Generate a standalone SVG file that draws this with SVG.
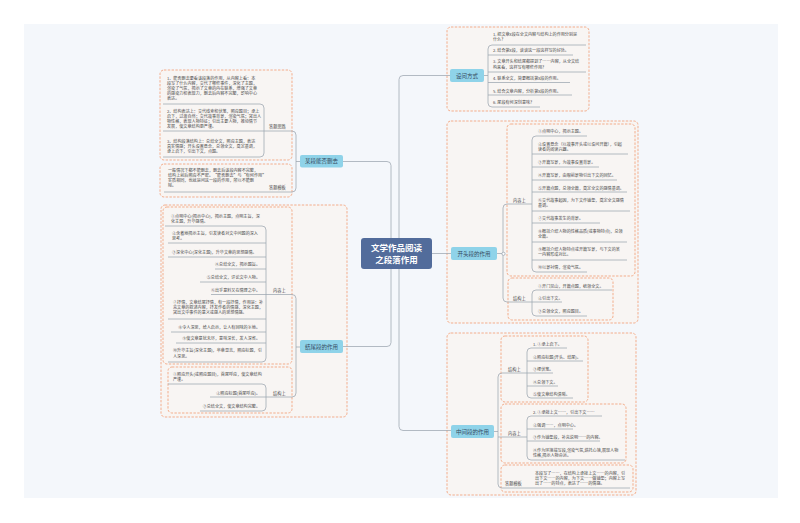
<svg xmlns="http://www.w3.org/2000/svg" width="800" height="523" viewBox="0 0 800 523">
<style>
.cv{fill:#f4f7fb}
.bx{fill:#f8f5f3;stroke:#f2a07a;stroke-width:0.85;stroke-dasharray:2.4 1.4}
.ln{fill:none;stroke:#9ca5b0;stroke-width:0.75}
.tp{fill:#8fd3e9}
.t{font-family:"Noto Sans CJK SC","Noto Sans",sans-serif}
.tt{font-size:5.5px;fill:#34495e;text-anchor:middle}
.it{font-size:4.1px;fill:#4a4a4a}
.e{text-anchor:end}
.lb{font-size:4.2px;fill:#4a4a4a}
.ct{font-size:8.5px;font-weight:bold;fill:#fff;text-anchor:middle}
</style>
<rect x="0" y="0" width="800" height="523" fill="#ffffff"/>
<rect class="cv" x="24" y="24" width="754" height="474"/>

<g id="frames">
<rect class="bx" x="447" y="27" width="142" height="84" rx="4"/>
<rect class="bx" x="447" y="121" width="191" height="202" rx="4"/>
<rect class="bx" x="507" y="124" width="128" height="152" rx="4"/>
<rect class="bx" x="508" y="278" width="105" height="42" rx="4"/>
<rect class="bx" x="447" y="333" width="189" height="162" rx="4"/>
<rect class="bx" x="501" y="336" width="87" height="66" rx="4"/>
<rect class="bx" x="501" y="404" width="125" height="59" rx="4"/>
<rect class="bx" x="501" y="465" width="132" height="27" rx="4"/>
<rect class="bx" x="160" y="70" width="132" height="90" rx="4"/>
<rect class="bx" x="160" y="164" width="132" height="33" rx="4"/>
<rect class="bx" x="161" y="205" width="186" height="212" rx="4"/>
<rect class="bx" x="163" y="207" width="129" height="157" rx="4"/>
<rect class="bx" x="168" y="367" width="124" height="46" rx="4"/>
</g>

<g id="connectors" class="ln">
<path d="M343,161.5 H387 Q391,161.5 391,165.5 V342.5 Q391,346.5 387,346.5 H343"/>
<path d="M450,75.5 H403 Q399,75.5 399,79.5 V426.5 Q399,430.5 403,430.5 H451"/>
<path d="M432,253.5 H451"/>
<path d="M484,75.5 H488"/>
<path d="M586,45 H492 Q488,45 488,49 V103 Q488,107 492,107 H540"/>
<path d="M488,55 H573 M488,72 H586 M488,82.5 H570 M488,95 H572"/>
<path d="M497,253.5 H503"/>
<path d="M532,204 H507 Q503,204 503,208 V298 Q503,302 507,302 H532"/>
<path d="M587,136 H536 Q532,136 532,140 V268 Q532,272 536,272 H587"/>
<path d="M532,154 H628 M532,167 H599 M532,180 H617 M532,192 H627 M532,211 H630 M532,223 H600 M532,242 H627 M532,260 H627"/>
<path d="M612,290 H536 Q532,290 532,294 V312 Q532,316 536,316 H587"/>
<path d="M532,302 H562"/>
<path d="M494,431.5 H498"/>
<path d="M527,373 H502 Q498,373 498,377 V484 Q498,488 502,488 H630"/>
<path d="M498,437 H527"/>
<path d="M567,348 H531 Q527,348 527,352 V394 Q527,398 531,398 H573"/>
<path d="M527,361 H583 M527,373 H553 M527,386 H558"/>
<path d="M602,416 H531 Q527,416 527,420 V456 Q527,460 531,460 H625"/>
<path d="M527,429 H573 M527,441 H600"/>
<path d="M296,161.5 H300"/>
<path d="M264,131 H292 Q296,131 296,135 V188 Q296,192 292,192 H164"/>
<path d="M163,104 H260 Q264,104 264,108 V153 Q264,157 260,157 H163"/>
<path d="M163,131 H264"/>
<path d="M296,347 H300"/>
<path d="M266,294.5 H292 Q296,294.5 296,298.5 V393 Q296,397 292,397 H266"/>
<path d="M165,226 H262 Q266,226 266,230 V358 Q266,362 262,362 H168"/>
<path d="M168,243 H266 M168,257 H266 M215,269 H266 M200,282 H266 M211,294.5 H266 M168,319 H266 M171,332 H266 M176,343 H266"/>
<path d="M168,384 H262 Q266,384 266,388 V407 Q266,411 262,411 H200"/>
<path d="M210,397 H266"/>
<circle cx="503.5" cy="253.8" r="1.6" fill="#ffffff"/>
</g>

<g id="node-center">
<rect x="361" y="238" width="71" height="31" rx="3" fill="#526c9b"/>
<text class="t ct" x="396.5" y="251.3">文学作品阅读</text>
<text class="t ct" x="396.5" y="262.5">之段落作用</text>
</g>

<g id="node-tiwen">
<rect class="tp" x="450" y="69" width="34" height="13" rx="2"/>
<text class="t tt" x="467" y="77.5">设问方式</text>
<g class="t it">
<text x="493" y="36">1. 把文章x段在全文内容与结构上的作用分别是</text>
<text x="493" y="41.2">什么？</text>
<text x="493" y="52.2">2. 结合第x段，谈谈这一段这样写的好处。</text>
<text x="493" y="63.2">3. 文章开头和结尾都提到了……内容，从全文结</text>
<text x="493" y="68.6">构来看，这样写有哪些作用？</text>
<text x="493" y="79.8">4. 联系全文，简要概括第x段的作用。</text>
<text x="493" y="92.5">5. 结合文章内容，分析第x段的作用。</text>
<text x="493" y="104.2">6. 尾段有何深刻意味？</text>
</g>
</g>

<g id="node-kaitou">
<rect class="tp" x="451" y="247" width="46" height="13" rx="2"/>
<text class="t tt" x="474" y="255.5">开头段的作用</text>
<text class="t lb" x="513" y="201.5">内容上</text>
<text class="t lb" x="513" y="299.5">结构上</text>
<g class="t it">
<text x="538" y="132.5">①点明中心，揭示主题。</text>
<text x="538" y="145.5">②设置悬念（以故事开头或以设问开篇），引起</text>
<text x="538" y="150.8">读者的阅读兴趣。</text>
<text x="538" y="164.3">③开篇写景，为故事设置背景。</text>
<text x="538" y="177.3">④开篇写景，由眼前景物引出下文的回忆。</text>
<text x="538" y="189.5">⑤开篇点题，总领全篇，奠定全文的感情基调。</text>
<text x="538" y="201.5">⑥交代故事起因，为下文作铺垫，奠定全文感情</text>
<text x="538" y="207">基调。</text>
<text x="538" y="220">⑦交代故事发生的背景。</text>
<text x="538" y="232.5">⑧概括介绍人物的性格品质(或事物特点)，总领</text>
<text x="538" y="237.7">全篇。</text>
<text x="538" y="250.5">⑨概括介绍人物特点或开篇写景，与下文的某</text>
<text x="538" y="255.8">一内容形成对比。</text>
<text x="538" y="269.3">⑩以景衬情，渲染气氛。</text>
<text x="538" y="287.5">①开门见山，开篇点题，统领全文。</text>
<text x="538" y="299.5">②引出下文。</text>
<text x="538" y="312.5">③总领全文，照应题目。</text>
</g>
</g>

<g id="node-zhongjian">
<rect class="tp" x="451" y="425" width="43" height="13" rx="2"/>
<text class="t tt" x="472.5" y="433.5">中间段的作用</text>
<text class="t lb" x="508" y="370.5">结构上</text>
<text class="t lb" x="508" y="434.5">内容上</text>
<text class="t lb" x="505" y="485">答题模板</text>
<g class="t it">
<text x="533" y="345.5">1. ①承上启下。</text>
<text x="533" y="358.5">②照应标题(开头、结尾)。</text>
<text x="533" y="370.5">③埋伏笔。</text>
<text x="533" y="383.5">④总领下文。</text>
<text x="533" y="395.5">⑤使文章结构清晰。</text>
<text x="533" y="413.5">2. ①承接上文……，引出下文……</text>
<text x="533" y="426.5">②强调……，点明中心。</text>
<text x="533" y="438.5">③作为铺垫段，补充说明……的内容。</text>
<text x="533" y="451.5">④作为环境描写段,渲染气氛,烘托心境,展现人物</text>
<text x="533" y="456.7">性格,揭示人物命运。</text>
<text x="535" y="474.5">本段写了……，在结构上承接上文……的内容，引</text>
<text x="535" y="479.7">出下文……的内容，为下文……做铺垫；内容上写</text>
<text x="535" y="485">出了……的特点，表达了……的情感。</text>
</g>
</g>

<g id="node-shanqu">
<rect class="tp" x="300" y="155" width="43" height="12.5" rx="2"/>
<text class="t tt" x="321.5" y="163.3">某段能否删去</text>
<text class="t lb" x="269" y="128">答题思路</text>
<text class="t lb" x="269" y="189">答题模板</text>
<g class="t it">
<text x="167" y="79.5">1、能否删去要看该段落的作用，从内容上看：本</text>
<text x="167" y="84.7">段写了什么内容，交代了哪些事件，深化了主题，</text>
<text x="167" y="89.9">渲染了气氛，揭示了文章的内在联系，增强了文章</text>
<text x="167" y="95.1">的感染力和表现力，删去后内容不完整，影响中心</text>
<text x="167" y="100.3">表达。</text>
<text x="167" y="112.5">2、结构表达上：交代线索和伏笔，照应题目；承上</text>
<text x="167" y="117.7">启下，过渡自然；交代故事背景，渲染气氛；突出人</text>
<text x="167" y="122.9">物性格，表现人物特征；引出主要人物，推动情节</text>
<text x="167" y="128.1">发展，使文章结构更严谨。</text>
<text x="167" y="142.5">3、结构段落结构上：总结全文，照应主题，表达</text>
<text x="167" y="147.7">真实情感；开头设置悬念，总领全文，奠定基调，</text>
<text x="167" y="152.9">承上启下，引出下文，点题。</text>
<text x="168" y="171.5">一般情况下都不能删去，删去后该段内容不完整，</text>
<text x="168" y="176.7">结构上前后照应不严密。“能否删去”与“有何作用”</text>
<text x="168" y="181.9">实质相同，也就是问这一段的作用，所以不能删</text>
<text x="168" y="187.1">除。</text>
</g>
</g>

<g id="node-jiewei">
<rect class="tp" x="300" y="340" width="43" height="13" rx="2"/>
<text class="t tt" x="321.5" y="348.5">结尾段的作用</text>
<text class="t lb" x="273" y="291.5">内容上</text>
<text class="t lb" x="273" y="394.5">结构上</text>
<g class="t it">
<text x="171" y="217.5">①点明中心(揭示中心)，揭示主题，点明主旨，深</text>
<text x="171" y="222.7">化主题，升华感情。</text>
<text x="172" y="234.5">②含蓄地揭示主旨，引发读者对文中问题的深入</text>
<text x="172" y="239.7">思考。</text>
<text x="172" y="253.5">③深化中心(深化主题)，升华文章的思想感情。</text>
<text class="e" x="260" y="265.5">④总结全文，揭示题旨。</text>
<text class="e" x="260" y="279.3">⑤总结全文，评论文中人物。</text>
<text class="e" x="260" y="292.3">⑥出乎意料又在情理之中。</text>
<text x="173" y="303.8">⑦抒情，文章结尾抒情，有一段抒情，作用是：补</text>
<text x="173" y="309">充文章的叙述内容，抒发作者的情感，深化主题，</text>
<text x="173" y="314.2">突出文中事件的意义或感人的思想情感。</text>
<text class="e" x="260" y="329.3">⑧令人深思，给人启示，让人有回味的余地。</text>
<text class="e" x="260" y="340">⑨使文章意犹未尽，意味深长，发人深省。</text>
<text x="173" y="352.3">⑩升华主旨(深化主题)，卒章显志，照应标题，引</text>
<text x="173" y="357.5">人深思。</text>
<text x="173" y="375.5">①照应开头(或照应题目)，首尾呼应，使文章结构</text>
<text x="173" y="380.7">严谨。</text>
<text class="e" x="260" y="394.5">②照应标题(首尾呼应)。</text>
<text class="e" x="260" y="408.3">③总结全文，使文章结构完整。</text>
</g>
</g>
</svg>
